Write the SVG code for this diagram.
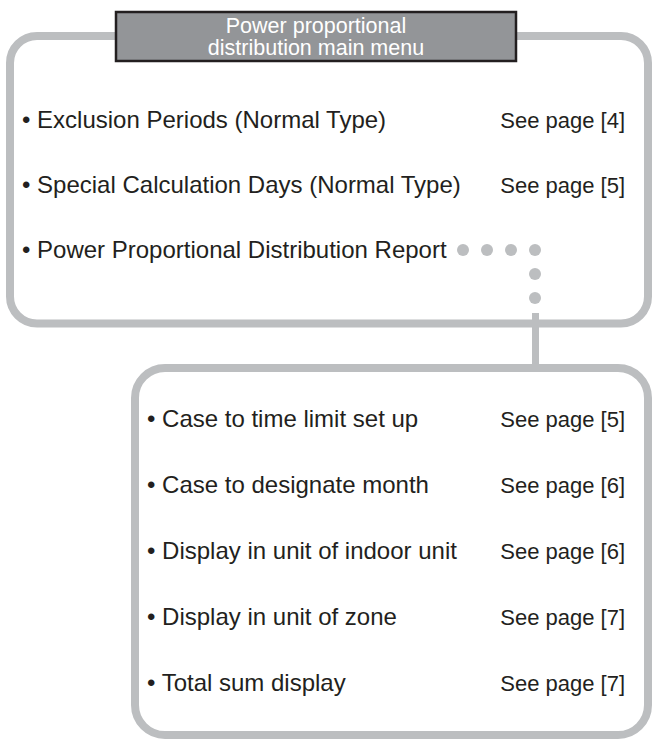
<svg xmlns="http://www.w3.org/2000/svg" width="652" height="739" viewBox="0 0 652 739">
<style>
.frame{fill:none;stroke:#bcbec0;stroke-width:8}
.item{font-family:"Liberation Sans",Arial,sans-serif;font-size:24px;fill:#231f20}
.ref{font-family:"Liberation Sans",Arial,sans-serif;font-size:22px;fill:#231f20;text-anchor:end}
.title{font-family:"Liberation Sans",Arial,sans-serif;font-size:21.5px;fill:#ffffff;text-anchor:middle}
.dot{fill:#bcbec0}
</style>
<rect width="652" height="739" fill="#ffffff"/>
<g id="main-menu">
<rect class="frame" x="10" y="36" width="638" height="287.5" rx="27"/>
<text class="item" x="22" y="128">• Exclusion Periods (Normal Type)</text>
<text class="ref" x="625" y="128">See page [4]</text>
<text class="item" x="22" y="193">• Special Calculation Days (Normal Type)</text>
<text class="ref" x="625" y="193">See page [5]</text>
<text class="item" x="22" y="258">• Power Proportional Distribution Report</text>
</g>
<g id="title">
<rect x="116" y="12" width="400" height="49" fill="#939598" stroke="#231f20" stroke-width="2.5"/>
<text class="title" x="316" y="32.5">Power proportional</text>
<text class="title" x="316" y="54.5">distribution main menu</text>
</g>
<g id="connectors">
<circle class="dot" cx="463" cy="250" r="6"/>
<circle class="dot" cx="487" cy="250" r="6"/>
<circle class="dot" cx="511" cy="250" r="6"/>
<circle class="dot" cx="535" cy="250" r="6"/>
<circle class="dot" cx="535" cy="274" r="6"/>
<circle class="dot" cx="535" cy="298" r="6"/>
<line x1="535.5" y1="313" x2="535.5" y2="366" stroke="#bcbec0" stroke-width="7"/>
</g>
<g id="report-menu">
<rect class="frame" x="135" y="368" width="513" height="367" rx="30"/>
<text class="item" x="147" y="427">• Case to time limit set up</text>
<text class="ref" x="625" y="427">See page [5]</text>
<text class="item" x="147" y="493">• Case to designate month</text>
<text class="ref" x="625" y="493">See page [6]</text>
<text class="item" x="147" y="559">• Display in unit of indoor unit</text>
<text class="ref" x="625" y="559">See page [6]</text>
<text class="item" x="147" y="625">• Display in unit of zone</text>
<text class="ref" x="625" y="625">See page [7]</text>
<text class="item" x="147" y="691">• Total sum display</text>
<text class="ref" x="625" y="691">See page [7]</text>
</g>
</svg>
